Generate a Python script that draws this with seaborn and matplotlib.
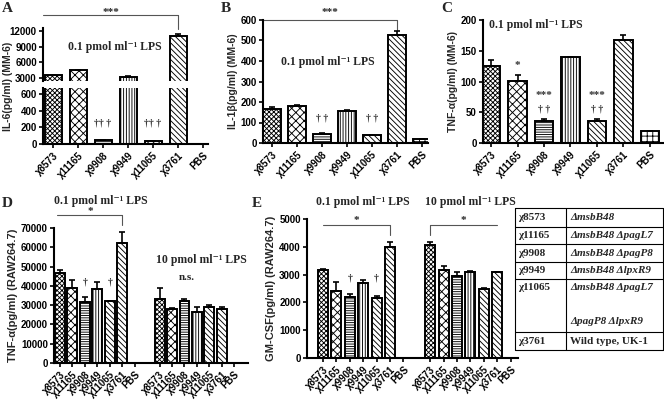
import numpy as np
import pandas as pd
import matplotlib
matplotlib.use("Agg")
import matplotlib.pyplot as plt
import seaborn as sns

# ---- data ----
strains = ['χ8573', 'χ11165', 'χ9908', 'χ9949', 'χ11065', 'χ3761', 'PBS']
hatches = ['xxxxxxx', 'xxxx', '-------', '||||||', '\\\\\\\\\\\\', '\\\\\\\\\\\\', '+++']

il6 = [3500, 4500, 45, 3200, 35, 11000, 4]
il6_err = [60, 80, 8, 80, 6, 400, 0]

il1b = [164, 180, 46, 158, 38, 528, 18]
il1b_err = [14, 3, 3, 2, 2, 16, 2]

tnf_mm6 = [125, 101, 35, 140, 35, 167, 20]
tnf_mm6_err = [10, 10, 4, 0.5, 4, 9, 0]

tnf_raw_lo = [46600, 38900, 31800, 38600, 32000, 62300, 0]
tnf_raw_lo_err = [1600, 4000, 2300, 3500, 400, 5800, 0]
tnf_raw_hi = [33200, 27800, 32300, 26600, 29000, 28000, 0]
tnf_raw_hi_err = [5600, 600, 800, 2400, 900, 1200, 0]

gm_lo = [3180, 2420, 2200, 2690, 2150, 3990, 0]
gm_lo_err = [30, 300, 90, 100, 80, 200, 0]
gm_hi = [4060, 3160, 2960, 3100, 2500, 3080, 0]
gm_hi_err = [100, 140, 120, 20, 15, 20, 0]

table_ids = ['χ8573', 'χ11165', 'χ9908', 'χ9949', 'χ11065', 'χ3761']
table_geno = ['ΔmsbB48', 'ΔmsbB48 ΔpagL7', 'ΔmsbB48 ΔpagP8', 'ΔmsbB48 ΔlpxR9',
              'ΔmsbB48 ΔpagL7\nΔpagP8 ΔlpxR9', 'Wild type, UK-1']

LPS_LO = '0.1 pmol ml⁻¹ LPS'
LPS_HI = '10 pmol ml⁻¹ LPS'

# ---- style ----
sns.set_theme(style="ticks")
plt.rcParams['font.family'] = ['Liberation Sans', 'DejaVu Sans']
plt.rcParams['font.weight'] = 'bold'
plt.rcParams['axes.labelweight'] = 'bold'
plt.rcParams['hatch.linewidth'] = 0.65
SERIF = ['Liberation Serif', 'DejaVu Serif']

W, H = 664, 403
fig = plt.figure(figsize=(W / 100, H / 100), dpi=100)
hatch_map = dict(zip(strains, hatches))


def add_ax(x0, y0, x1, y1):
    return fig.add_axes([x0 / W, 1 - y1 / H, (x1 - x0) / W, (y1 - y0) / H])


def ftext(x, y, s, **kw):
    fig.text(x / W, 1 - y / H, s, **kw)


def draw_bars(ax, keys, values, errors, order, width):
    df = pd.DataFrame({'key': keys, 'value': values})
    sns.barplot(data=df, x='key', y='value', order=order, ax=ax, color='white',
                edgecolor='black', linewidth=1.4, width=width, errorbar=None,
                saturation=1)
    for patch in ax.patches:
        idx = int(round(patch.get_x() + patch.get_width() / 2))
        patch.set_facecolor('white')
        patch.set_hatch(hatch_map[order[idx].split('|')[0]])
    pos = [order.index(k) for k in keys]
    ax.errorbar(pos, values, yerr=[np.zeros(len(errors)), errors], fmt='none',
                ecolor='black', elinewidth=1.2, capsize=2.5, capthick=1.2, zorder=3)
    ticks = [i for i, k in enumerate(order) if k != 'gap']
    ax.set_xticks(ticks)
    ax.set_xticklabels([order[i].split('|')[0] for i in ticks], rotation=45,
                       ha='right', rotation_mode='anchor', fontsize=7, fontweight='bold')
    ax.set_xlabel('')
    ax.set_ylabel('')
    sns.despine(ax=ax)
    for s in ['left', 'bottom']:
        ax.spines[s].set_linewidth(1.5)
        ax.spines[s].set_color('black')
    ax.tick_params(axis='both', length=3, width=1.2, color='black', pad=1.5,
                   labelsize=7, labelcolor='black')
    for lab in ax.get_yticklabels():
        lab.set_fontweight('bold')


def bracket(ax, x0, x1, y, ydown, side, label, ylab):
    ax.plot([x0, x1], [y, y], color='#555555', lw=0.8, clip_on=False)
    xd = x1 if side == 'right' else x0
    ax.plot([xd, xd], [y, ydown], color='#555555', lw=0.8, clip_on=False)
    ax.text((x0 + x1) / 2, ylab, label, ha='center', va='center', fontsize=8,
            family=SERIF, fontweight='bold', clip_on=False)


def mark(ax, x, y, s, size=7):
    ax.text(x, y, s, ha='center', va='center', fontsize=size, family=SERIF,
            fontweight='bold', color='#333333')


# ---- panel A (broken axis) ----
order1 = strains
axA_up = add_ax(43, 28, 208, 81)
axA_lo = add_ax(43, 88, 208, 144)
draw_bars(axA_up, strains, il6, il6_err, order1, 0.68)
draw_bars(axA_lo, strains, il6, il6_err, order1, 0.68)
axA_up.set_ylim(2400, 12600)
axA_up.set_yticks([3000, 6000, 9000, 12000])
axA_up.spines['bottom'].set_visible(False)
axA_up.tick_params(axis='x', bottom=False, labelbottom=False)
axA_lo.set_ylim(0, 670)
axA_lo.set_yticks([0, 200, 400, 600])
for a in (axA_up, axA_lo):
    a.set_xlim(-0.4, 6.2)
bracket(axA_up, -0.4, 5, 15100, 12400, 'right', '***', 15500)
mark(axA_lo, 2, 250, '†† †')
mark(axA_lo, 4, 250, '†† †')
ftext(8, 86, 'IL-6(pg/ml) (MM-6)', rotation=90, ha='center', va='center', fontsize=7.5)
ftext(115, 47, LPS_LO, ha='center', va='center', fontsize=8.5, family=SERIF, fontweight='bold')

# ---- panel B ----
axB = add_ax(263, 20, 428, 143)
draw_bars(axB, strains, il1b, il1b_err, order1, 0.7)
axB.set_ylim(0, 600)
axB.set_yticks(range(0, 601, 100))
axB.set_xlim(-0.36, 6.24)
axB.set_ylabel('IL-1β(pg/ml) (MM-6)', fontsize=7.5, labelpad=2)
bracket(axB, -0.36, 5, 600, 552, 'right', '***', 636)
mark(axB, 2, 122, '† †')
mark(axB, 4, 122, '† †')
ftext(328, 62, LPS_LO, ha='center', va='center', fontsize=8.5, family=SERIF, fontweight='bold')

# ---- panel C ----
axC = add_ax(483, 20, 663, 143)
draw_bars(axC, strains, tnf_mm6, tnf_mm6_err, order1, 0.7)
axC.set_ylim(0, 200)
axC.set_yticks(range(0, 201, 50))
axC.set_xlim(-0.31, 6.5)
axC.set_ylabel('TNF-α(pg/ml) (MM-6)', fontsize=7.5, labelpad=2)
mark(axC, 1, 126, '*', 8)
for i in (2, 4):
    mark(axC, i, 77, '***', 8)
    mark(axC, i, 56, '† †')
ftext(536, 25, LPS_LO, ha='center', va='center', fontsize=8.5, family=SERIF, fontweight='bold')

# ---- panels D and E (two LPS doses) ----
keys_lo = [s + '|lo' for s in strains]
keys_hi = [s + '|hi' for s in strains]
order2 = keys_lo + ['gap'] + keys_hi

axD = add_ax(54, 228, 248, 363)
draw_bars(axD, keys_lo + keys_hi, tnf_raw_lo + tnf_raw_hi,
          tnf_raw_lo_err + tnf_raw_hi_err, order2, 0.8)
axD.set_ylim(0, 70000)
axD.set_yticks(range(0, 70001, 10000))
axD.set_xlim(-0.48, 15.1)
axD.set_ylabel('TNF-α(pg/ml) (RAW264.7)', fontsize=8, labelpad=2)
bracket(axD, -0.2, 5, 76700, 71500, 'right', '*', 78800)
mark(axD, 2, 41800, '†')
mark(axD, 4, 41800, '†')
ftext(101, 201, LPS_LO, ha='center', va='center', fontsize=8.5, family=SERIF, fontweight='bold')
ftext(201, 260, LPS_HI, ha='center', va='center', fontsize=8.5, family=SERIF, fontweight='bold')
ftext(187, 277, 'n.s.', ha='center', va='center', fontsize=8, family=SERIF, fontweight='bold')

axE = add_ax(307, 219, 518, 358)
draw_bars(axE, keys_lo + keys_hi, gm_lo + gm_hi, gm_lo_err + gm_hi_err, order2, 0.75)
axE.set_ylim(0, 5000)
axE.set_yticks(range(0, 5001, 1000))
axE.set_xlim(-1.19, 14.55)
axE.set_ylabel('GM-CSF(pg/ml) (RAW264.7)', fontsize=8, labelpad=2)
bracket(axE, 0, 5, 4790, 4430, 'right', '*', 4950)
bracket(axE, 8, 13, 4790, 4430, 'left', '*', 4950)
mark(axE, 2, 2880, '†')
mark(axE, 4, 2880, '†')
ftext(363, 202, LPS_LO, ha='center', va='center', fontsize=8.5, family=SERIF, fontweight='bold')
ftext(470, 202, LPS_HI, ha='center', va='center', fontsize=8.5, family=SERIF, fontweight='bold')

# ---- panel letters ----
for x, y, s in [(2, 2, 'A'), (221, 2, 'B'), (441, 2, 'C'), (2, 197, 'D'), (252, 197, 'E')]:
    ftext(x, y, s, ha='left', va='top', fontsize=11, family=SERIF, fontweight='bold')

# ---- strain table ----
axT = add_ax(514, 207, 663, 351)
axT.set_xlim(514, 663)
axT.set_ylim(351, 207)
axT.axis('off')
row_edges = [208, 227, 244, 262, 279, 332, 350]
col_div = 566
for y in row_edges:
    axT.plot([514.5, 662.5], [y, y], color='black', lw=0.8, clip_on=False)
for x in [514.5, col_div, 662.5]:
    axT.plot([x, x], [row_edges[0], row_edges[-1]], color='black', lw=0.8, clip_on=False)
for i, (sid, geno) in enumerate(zip(table_ids, table_geno)):
    y0, y1 = row_edges[i], row_edges[i + 1]
    if '\n' in geno:
        axT.text(518, y0 + 9, sid, ha='left', va='center', fontsize=8, family=SERIF, fontweight='bold')
        for j, line in enumerate(geno.split('\n')):
            axT.text(570, y0 + 9 + j * 34, line, ha='left', va='center', fontsize=8,
                     family=SERIF, fontweight='bold', style='italic')
    else:
        style = 'normal' if 'Wild' in geno else 'italic'
        axT.text(518, (y0 + y1) / 2, sid, ha='left', va='center', fontsize=8, family=SERIF, fontweight='bold')
        axT.text(570, (y0 + y1) / 2, geno, ha='left', va='center', fontsize=8,
                 family=SERIF, fontweight='bold', style=style)

fig.savefig('out.png', dpi=100, facecolor='white')
